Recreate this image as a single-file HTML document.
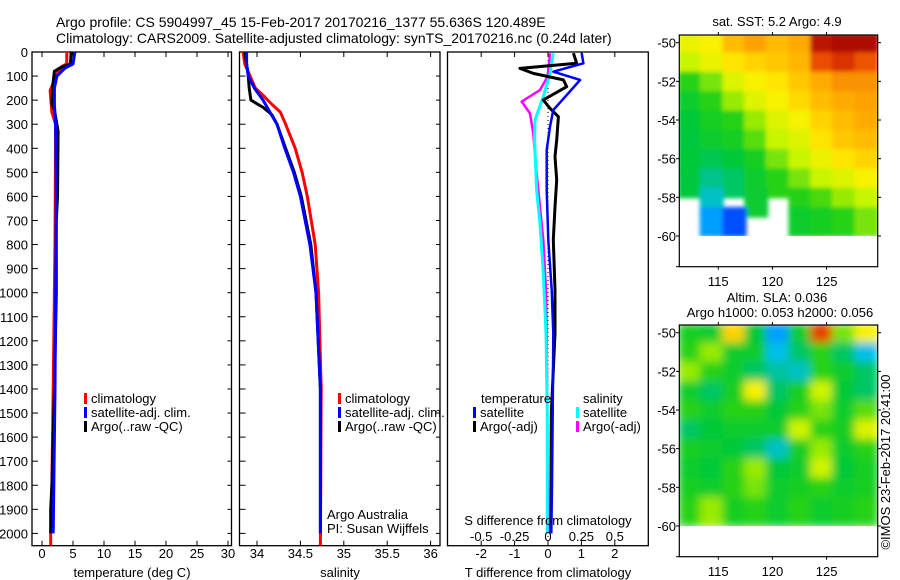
<!DOCTYPE html>
<html><head><meta charset="utf-8">
<style>
html,body{margin:0;padding:0;background:#fff;}
svg{display:block;font-family:"Liberation Sans",sans-serif;}
text{font-size:13px;fill:#000;}
</style></head>
<body>
<svg id="fig" width="900" height="580" viewBox="0 0 900 580">
<defs>
<clipPath id="clipSST"><rect x="679" y="35" width="199" height="232"/></clipPath>
<clipPath id="clipSLA"><rect x="679" y="325" width="199" height="232"/></clipPath>
<filter id="blur" x="-5%" y="-5%" width="110%" height="110%"><feGaussianBlur stdDeviation="4.5"/></filter>
<filter id="blur2" x="-5%" y="-5%" width="110%" height="110%"><feGaussianBlur stdDeviation="2"/></filter>
</defs>
<text x="56" y="27" style="font-size:14px">Argo profile: CS 5904997_45 15-Feb-2017 20170216_1377 55.636S 120.489E</text>
<text x="56" y="43" style="font-size:14px">Climatology: CARS2009. Satellite-adjusted climatology: synTS_20170216.nc (0.24d later)</text>
<g id="g"></g>
</svg>
<script>
// ---------- data ----------
const tempClimDepth=[0,50,60,100,130,160,250,300,800,1000,1400,1800,2000,2050];
const tempClimVal=[4.0,4.0,3.2,2.2,1.8,1.3,1.6,2.2,2.1,2.0,1.8,1.6,1.4,1.4];
const tempSatDepth=[0,50,65,100,150,220,300,600,1000,1400,1800,2000];
const tempSatVal=[5.3,5.0,3.8,2.4,2.0,2.0,2.2,2.3,2.2,2.1,1.9,1.8];
const tempArgoDepth=[0,50,65,80,150,215,240,330,600,700,1000,1400,1800,1900,2000];
const tempArgoVal=[4.7,4.6,3.0,2.0,1.7,1.6,2.0,2.6,2.5,2.3,2.3,2.0,1.6,1.4,1.4];

const salClimDepth=[0,50,100,150,180,220,250,300,400,500,600,800,1000,1400,2050];
const salClimVal=[33.84,33.86,33.92,33.98,34.07,34.18,34.27,34.33,34.44,34.52,34.58,34.67,34.71,34.74,34.73];
const salSatDepth=[0,50,100,150,200,250,300,400,500,600,800,1000,1400,2000];
const salSatVal=[33.88,33.88,33.9,33.97,34.07,34.15,34.23,34.32,34.42,34.5,34.61,34.68,34.73,34.73];
const salArgoDepth=[0,50,100,150,200,230,260,300,400,500,600,800,1000,1400,2000];
const salArgoVal=[33.86,33.88,33.9,33.91,33.93,34.07,34.17,34.23,34.33,34.43,34.51,34.62,34.68,34.73,34.73];

const dTSatDepth=[5,47,82,116,179,241,310,407,573,781,989,1169,1500,1800,2000];
const dTSatVal=[1.01,1.06,0.16,0.96,0.56,0.16,0.06,-0.04,-0.04,0.01,0.11,0.16,0.14,0.12,0.1];
const dTArgoDepth=[5,47,68,89,116,144,199,234,269,366,435,532,643,781,989,1169,1500,2000];
const dTArgoVal=[0.76,0.86,-0.84,-0.44,0.46,0.56,-0.14,0.06,0.31,0.26,0.21,0.26,0.21,0.16,0.21,0.21,0.1,0.08];
const dSArgoDepth=[5,102,158,206,255,338,504,643,781,989,1169,1500,2000];
const dSArgoVal=[0.015,-0.003,-0.06,-0.197,-0.135,-0.11,-0.085,-0.06,-0.035,-0.015,-0.01,-0.005,0];
const dSSatDepth=[5,89,186,282,366,573,712,919,1169,1500,2000];
const dSSatVal=[0.04,0.015,-0.035,-0.097,-0.1,-0.085,-0.06,-0.035,-0.015,-0.005,-0.005];

const depthTicks=[0,100,200,300,400,500,600,700,800,900,1000,1100,1200,1300,1400,1500,1600,1700,1800,1900,2000];
const tempTicks=[0,5,10,15,20,25,30];
const salTicks=[34,34.5,35,35.5,36];
const salTickLabels=["34","34.5","35","35.5","36"];
const dTTicks=[-2,-1,0,1,2];
const dSTicks=[-0.5,-0.25,0,0.25,0.5];
const dSTickLabels=["-0.5","-0.25","0","0.25","0.5"];

const mapLats=[-50,-51,-52,-53,-54,-55,-56,-57,-58,-59];
const mapLons=[112.4,114.4,116.5,118.5,120.5,122.6,124.6,126.6,128.7];
const latTicks=[-50,-52,-54,-56,-58,-60];
const lonTicks=[115,120,125];
const sstGrid=[
[0.6,0.62,0.72,0.76,0.72,0.75,0.95,0.98,0.98],
[0.55,0.6,0.65,0.68,0.7,0.73,0.86,0.9,0.85],
[0.45,0.5,0.58,0.62,0.65,0.7,0.75,0.78,0.78],
[0.4,0.45,0.52,0.58,0.62,0.67,0.72,0.75,0.76],
[0.38,0.42,0.45,0.52,0.58,0.62,0.68,0.72,0.75],
[0.37,0.4,0.42,0.48,0.55,0.58,0.65,0.7,0.72],
[0.38,0.36,0.38,0.42,0.5,0.55,0.6,0.65,0.68],
[0.37,0.33,0.35,0.4,0.45,0.5,0.55,0.58,0.62],
[null,0.3,null,0.39,null,0.44,0.47,0.52,0.55],
[null,0.25,0.2,null,null,0.4,0.42,0.45,0.5]];
const slaGrid=[
[0.42,0.4,0.68,0.38,0.25,0.4,0.88,0.5,0.62],
[0.45,0.52,0.4,0.4,0.28,0.35,0.45,0.35,0.28],
[0.52,0.45,0.4,0.35,0.32,0.3,0.45,0.4,0.35],
[0.4,0.35,0.42,0.62,0.35,0.42,0.56,0.38,0.35],
[0.45,0.4,0.45,0.45,0.38,0.45,0.5,0.4,0.48],
[0.35,0.38,0.4,0.4,0.4,0.56,0.45,0.42,0.58],
[0.42,0.4,0.38,0.35,0.3,0.42,0.52,0.4,0.45],
[0.4,0.38,0.45,0.52,0.38,0.4,0.56,0.38,0.42],
[0.42,0.4,0.45,0.5,0.4,0.42,0.45,0.4,0.42],
[0.45,0.52,0.42,0.45,0.4,0.45,0.4,0.42,0.45]];

// ---------- helpers ----------
const NS="http://www.w3.org/2000/svg";
const G=document.getElementById('g');
function mk(tag,attrs,parent){const e=document.createElementNS(NS,tag);for(const k in attrs)e.setAttribute(k,attrs[k]);(parent||G).appendChild(e);return e;}
function txt(x,y,s,anchor,parent,size){const t=mk('text',{x:x,y:y,'text-anchor':anchor||'start'},parent);if(size)t.style.fontSize=size+'px';t.textContent=s;return t;}

const TOP=52,BOT=545.7;
const yD=d=>TOP+d*0.2407;
const xT=v=>42+v*6.2;
const xS=v=>257+(v-34)*86.8;
const xDT=v=>548+v*33.4;
const xDS=v=>548+v*133.6;

function panel(x0,x1,name){
  const r=mk('rect',{x:x0,y:TOP,width:x1-x0,height:BOT-TOP,fill:'none',stroke:'#000','stroke-width':1.3});
  
  
  depthTicks.forEach(d=>{
    mk('line',{x1:x0,x2:x0+6,y1:yD(d),y2:yD(d),stroke:'#000'});
    mk('line',{x1:x1,x2:x1-4,y1:yD(d),y2:yD(d),stroke:'#000'});
  });
}
function profile(depths,vals,xf,color,name,w){
  const pts=depths.map((d,i)=>xf(vals[i]).toFixed(1)+','+yD(Math.min(d,2051)).toFixed(1)).join(' ');
  const p=mk('polyline',{points:pts,fill:'none',stroke:color,'stroke-width':w||3,'stroke-linejoin':'round'});
  
  
}
function xticks(ticks,labels,xf,yLab){
  ticks.forEach((t,i)=>{const x=xf(t);
    mk('line',{x1:x,x2:x,y1:BOT,y2:BOT-5,stroke:'#000'});
    mk('line',{x1:x,x2:x,y1:TOP,y2:TOP+5,stroke:'#000'});
    const tl=txt(x,yLab,labels?labels[i]:String(t),'middle');
    
    
  });
}
function legendEntry(x,y,color,label){
  const g=mk('g',{});
  
  
  mk('rect',{x:x,y:y-10,width:3,height:11,fill:color},g);
  txt(x+7,y,label,'start',g);
}

// ---------- panel 1: temperature ----------
panel(32,231.5,'temperature-panel');
depthTicks.forEach(d=>{const t=txt(28,yD(d)+5,String(d),'end');
  
  });
xticks(tempTicks,null,xT,558);
txt(132,577,'temperature (deg C)','middle');
profile(tempClimDepth,tempClimVal,xT,'#ff0000','temp-climatology-line');
profile(tempArgoDepth,tempArgoVal,xT,'#000000','temp-argo-line');
profile(tempSatDepth,tempSatVal,xT,'#0000ff','temp-satellite-line');
legendEntry(84,403,'#ff0000','climatology');
legendEntry(84,417,'#0000ff','satellite-adj. clim.');
legendEntry(84,431,'#000000','Argo(..raw -QC)');

// ---------- panel 2: salinity ----------
panel(239.5,440,'salinity-panel');
xticks(salTicks,salTickLabels,xS,558);
txt(340,577,'salinity','middle');
profile(salClimDepth,salClimVal,xS,'#ff0000','sal-climatology-line');
profile(salArgoDepth,salArgoVal,xS,'#000000','sal-argo-line');
profile(salSatDepth,salSatVal,xS,'#0000ff','sal-satellite-line');
legendEntry(338,403,'#ff0000','climatology');
legendEntry(338,417,'#0000ff','satellite-adj. clim.');
legendEntry(338,431,'#000000','Argo(..raw -QC)');
txt(327,519,'Argo Australia');
txt(327,533,'PI: Susan Wijffels');

// ---------- panel 3: differences ----------
const r3=mk('rect',{x:447.5,y:TOP,width:200.8,height:BOT-TOP,fill:'none',stroke:'#000','stroke-width':1.3});


xticks(dTTicks,null,xDT,558);
mk('line',{x1:548,x2:548,y1:TOP,y2:BOT,stroke:'#000','stroke-dasharray':'1,3'});
profile(dSArgoDepth,dSArgoVal,xDS,'#ff00ff','sal-diff-argo-line',2.5);
profile(dSSatDepth,dSSatVal,xDS,'#00ffff','sal-diff-satellite-line',3);
profile(dTArgoDepth,dTArgoVal,xDT,'#000000','temp-diff-argo-line',3);
profile(dTSatDepth,dTSatVal,xDT,'#0000ff','temp-diff-satellite-line',2.5);
dSTicks.forEach((t,i)=>{const l=txt(xDS(t),541,dSTickLabels[i],'middle');
  
  });
txt(548,525,'S difference from climatology','middle');
txt(548,577,'T difference from climatology','middle');
txt(481,403,'temperature');
txt(583,403,'salinity');
legendEntry(473,417,'#0000ff','satellite');
legendEntry(473,431,'#000000','Argo(-adj)');
legendEntry(576,417,'#00ffff','satellite');
legendEntry(576,431,'#ff00ff','Argo(-adj)');

// ---------- maps ----------
const stops=[[0,[0,0,128]],[0.15,[0,0,255]],[0.27,[0,190,255]],[0.37,[0,200,60]],[0.45,[40,210,20]],[0.55,[200,245,0]],[0.63,[255,240,0]],[0.75,[255,170,0]],[0.88,[230,60,0]],[1,[160,0,0]]];
function cmap(v){for(let i=1;i<stops.length;i++){if(v<=stops[i][0]){const a=stops[i-1],b=stops[i],f=(v-a[0])/(b[0]-a[0]);
  return 'rgb('+a[1].map((c,k)=>Math.round(c+(b[1][k]-c)*f)).join(',')+')';}}return 'rgb(160,0,0)';}
const mx=lon=>679.3+(lon-111.4)*10.83;
function drawMap(top,grid,name,clip,filter){
  const my=lat=>top+7.7+(-50-lat)*19.33;
  const g=mk('g',{'clip-path':'url(#'+clip+')'});
  
  
  const inner=mk('g',{filter:'url(#'+filter+')'},g);
  grid.forEach((row,i)=>row.forEach((v,j)=>{
    if(v===null)return;
    const lat=mapLats[i],lon=mapLons[j];
    const y0=Math.max(my(lat+0.5),top-10),y1=my(lat-1);
    const c=mk('rect',{x:mx(lon-1.02)-1,y:y0,width:mx(lon+1.02)-mx(lon-1.02)+2,height:y1-y0+1,fill:cmap(v)},inner);
    
    
  }));
  mk('rect',{x:670,y:my(-60),width:220,height:60,fill:'#fff'},g);
  const b=mk('rect',{x:679.3,y:top,width:198.4,height:231.7,fill:'none',stroke:'#000','stroke-width':1.2});
  
  
  latTicks.forEach(l=>{const y=my(l);
    mk('line',{x1:676,x2:679,y1:y,y2:y,stroke:'#000'});
    mk('line',{x1:878,x2:881,y1:y,y2:y,stroke:'#000'});
    const t=txt(676,y+5,String(l),'end');
    
    });
  mk('line',{x1:676,x2:679,y1:top+231.7,y2:top+231.7,stroke:'#000'});
  lonTicks.forEach(l=>{const x=mx(l);
    mk('line',{x1:x,x2:x,y1:top-3,y2:top,stroke:'#000'});
    mk('line',{x1:x,x2:x,y1:top+231.7,y2:top+234.7,stroke:'#000'});
    const t=txt(x,top+251,String(l),'middle');
    
    });
}
drawMap(35,sstGrid,'sst-map','clipSST','blur2');
drawMap(325,slaGrid,'sla-map','clipSLA','blur');
txt(777,26,'sat. SST: 5.2 Argo: 4.9','middle');
txt(777,302,'Altim. SLA: 0.036','middle');
txt(780,317,'Argo h1000: 0.053 h2000: 0.056','middle');
const cr=txt(0,0,'\u00a9IMOS 23-Feb-2017 20:41:00','middle');
cr.setAttribute('transform','translate(890,462) rotate(-90)');


</script>
</body></html>
